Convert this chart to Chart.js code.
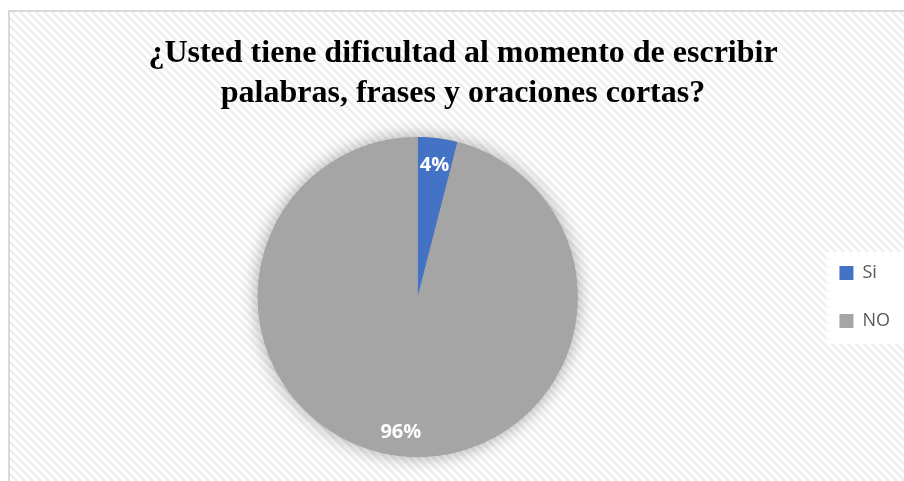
<!DOCTYPE html>
<html>
<head>
<meta charset="utf-8">
<script src="https://cdn.jsdelivr.net/npm/chart.js@4"></script>
<style>
  body { margin: 0; background: #fff; }
  #wrap { width: 904px; height: 481px; }
</style>
</head>
<body>
<div id="wrap"><canvas id="pieChart"></canvas></div>
<script>
var categories = ["Si", "NO"];
var values = [4, 96];
var colors = ["#4472c4", "#a5a5a5"];
var titleLines = ["¿Usted tiene dificultad al momento de escribir", "palabras, frases y oraciones cortas?"];

// motif de fond en diagonales
function makePattern(ctx) {
  var c = document.createElement("canvas");
  c.width = 8; c.height = 8;
  var p = c.getContext("2d");
  p.fillStyle = "#ffffff";
  p.fillRect(0, 0, 8, 8);
  p.strokeStyle = "#efefef";
  p.lineWidth = 2.5;
  p.beginPath();
  p.moveTo(-2, -2); p.lineTo(10, 10);
  p.moveTo(-2, 6); p.lineTo(2, 10);
  p.moveTo(6, -2); p.lineTo(10, 2);
  p.stroke();
  return ctx.createPattern(c, "repeat");
}

var background = {
  id: "background",
  beforeDraw: function (chart) {
    var ctx = chart.ctx;
    ctx.save();
    ctx.fillStyle = "#ffffff";
    ctx.fillRect(0, 0, chart.width, chart.height);
    ctx.fillStyle = makePattern(ctx);
    ctx.fillRect(9, 11, chart.width, chart.height);
    ctx.strokeStyle = "#d9d9d9";
    ctx.lineWidth = 2;
    ctx.strokeRect(9, 11, chart.width + 10, chart.height + 10);
    // fond blanc de la légende
    ctx.fillStyle = "#ffffff";
    ctx.fillRect(827, 252, chart.width - 827, 92);
    ctx.restore();
  },
  beforeDatasetsDraw: function (chart) {
    var arc = chart.getDatasetMeta(0).data[0];
    var ctx = chart.ctx;
    ctx.save();
    ctx.shadowColor = "rgba(0,0,0,0.35)";
    ctx.shadowBlur = 18;
    ctx.fillStyle = "#a5a5a5";
    ctx.beginPath();
    ctx.arc(arc.x, arc.y, arc.outerRadius, 0, Math.PI * 2);
    ctx.fill();
    ctx.restore();
  },
  afterDatasetsDraw: function (chart) {
    var ctx = chart.ctx;
    ctx.save();
    ctx.fillStyle = "#ffffff";
    ctx.font = "bold 20px 'Open Sans'";
    ctx.textAlign = "center";
    ctx.textBaseline = "middle";
    chart.getDatasetMeta(0).data.forEach(function (arc, i) {
      var mid = (arc.startAngle + arc.endAngle) / 2;
      var r = arc.outerRadius * 0.84;
      ctx.fillText(values[i] + "%", arc.x + Math.cos(mid) * r, arc.y + Math.sin(mid) * r + 2);
    });
    ctx.restore();
  }
};

new Chart(document.getElementById("pieChart").getContext("2d"), {
  type: "pie",
  data: {
    labels: categories,
    datasets: [{
      data: values,
      backgroundColor: colors,
      borderWidth: 0
    }]
  },
  options: {
    responsive: true,
    maintainAspectRatio: false,
    animation: false,
    layout: { padding: { left: 26, right: 4, top: 0, bottom: 24 } },
    plugins: {
      title: {
        display: true,
        text: titleLines,
        color: "#000000",
        font: { family: "'Liberation Serif'", size: 32, weight: "bold", lineHeight: 1.25 },
        padding: { top: 34, bottom: 23 }
      },
      legend: {
        position: "right",
        fullSize: false,
        labels: {
          color: "#595959",
          font: { family: "'Open Sans'", size: 18 },
          boxWidth: 14,
          boxHeight: 14,
          padding: 30
        }
      },
      tooltip: { enabled: false }
    }
  },
  plugins: [background]
});
</script>
</body>
</html>
